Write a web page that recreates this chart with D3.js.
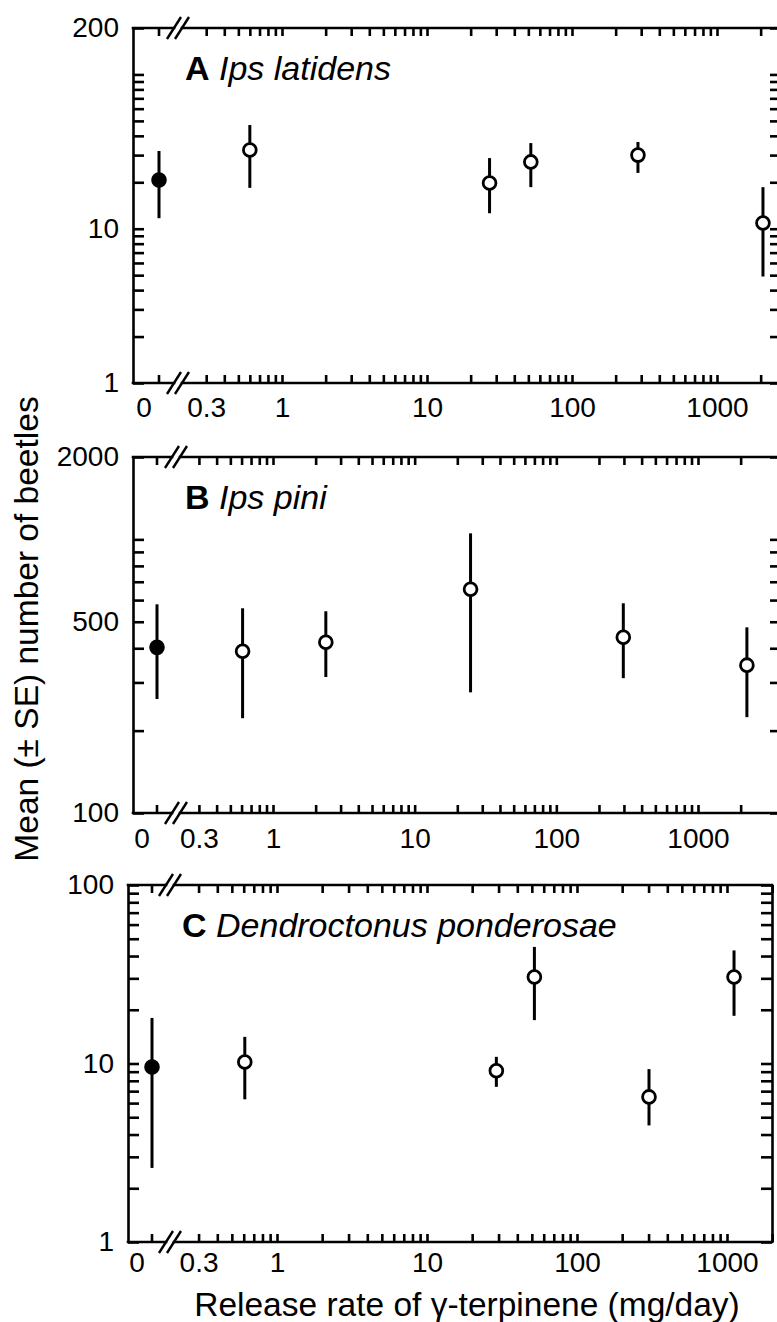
<!DOCTYPE html>
<html>
<head>
<meta charset="utf-8">
<script src="https://cdn.jsdelivr.net/npm/d3@7"></script>
<style>
  body { margin: 0; background: #fff; }
  svg { display: block; font-family: "Liberation Sans", Arial, Helvetica, sans-serif; }
</style>
</head>
<body>
<svg id="vis"></svg>
<script>
const SVG = d3.select('#vis');

const WIDTH = 777;
const HEIGHT = 1322;

SVG.attr("width", WIDTH).attr("height", HEIGHT);

// release rates in mg/day, 0 = unbaited control (filled dot)
const rates_A = [0, 0.6, 27, 52, 285, 2075];
const mean_A  = [20.7, 32.4, 19.8, 27.1, 30, 10.9];
const lo_A    = [11.7, 18.4, 12.6, 18.6, 23, 4.9];
const hi_A    = [31.9, 47, 28.7, 35.9, 36.5, 18.6];

const rates_B = [0, 0.61, 2.36, 24.8, 297, 2214];
const mean_B  = [403, 390, 421, 657, 439, 347];
const lo_B    = [261, 222, 314, 276, 311, 224];
const hi_B    = [579, 560, 546, 1052, 584, 477];

const rates_C = [0, 0.61, 29, 52, 302, 1114];
const mean_C  = [9.56, 10.2, 9.1, 30.5, 6.5, 30.5];
const lo_C    = [2.6, 6.3, 7.4, 17.5, 4.5, 18.5];
const hi_C    = [18, 14.1, 10.9, 45, 9.3, 43];

// x axis ticks (log part, right of the break)
const x_ticks = [0.3, 0.4, 0.5, 0.6, 0.7, 0.8, 0.9,
                 1, 2, 3, 4, 5, 6, 7, 8, 9,
                 10, 20, 30, 40, 50, 60, 70, 80, 90,
                 100, 200, 300, 400, 500, 600, 700, 800, 900,
                 1000, 2000];
const x_labels = [0.3, 1, 10, 100, 1000];

const y_ticks_A  = [1, 2, 3, 4, 5, 6, 7, 8, 9, 10, 20, 30, 40, 50, 60, 70, 80, 90, 100, 200];
const y_labels_A = [1, 10, 200];
const y_ticks_B  = [100, 200, 300, 400, 500, 600, 700, 800, 900, 1000, 2000];
const y_labels_B = [100, 500, 2000];
const y_ticks_C  = [1, 2, 3, 4, 5, 6, 7, 8, 9, 10, 20, 30, 40, 50, 60, 70, 80, 90, 100];
const y_labels_C = [1, 10, 100];

const panels = [
  {letter: "A", name: "Ips latidens", rates: rates_A, mean: mean_A, lo: lo_A, hi: hi_A,
   yDomain: [1, 200], yTicks: y_ticks_A, yLabels: y_labels_A,
   top: 28, bottom: 383, left: 133, right: 781, x1: 282, x1000: 717,
   zeroX: 159, breakX: 178, xPad: 14, titleX: 185},
  {letter: "B", name: "Ips pini", rates: rates_B, mean: mean_B, lo: lo_B, hi: hi_B,
   yDomain: [100, 2000], yTicks: y_ticks_B, yLabels: y_labels_B,
   top: 457, bottom: 813, left: 133, right: 781, x1: 273, x1000: 698,
   zeroX: 157, breakX: 176, xPad: 15, titleX: 185},
  {letter: "C", name: "Dendroctonus ponderosae", rates: rates_C, mean: mean_C, lo: lo_C, hi: hi_C,
   yDomain: [1, 100], yTicks: y_ticks_C, yLabels: y_labels_C,
   top: 885, bottom: 1242, left: 128, right: 772, x1: 277, x1000: 727,
   zeroX: 152, breakX: 170, xPad: 10, titleX: 182}
];

const TICK_FS = 28;
const LW = 2.6;

panels.forEach(function(p) {
  const g = SVG.append("g").attr("id", "panel_" + p.letter);

  const x_scale = d3.scaleLog().domain([1, 1000]).range([p.x1, p.x1000]);
  const y_scale = d3.scaleLog().domain(p.yDomain).range([p.bottom, p.top]);
  const xpos = (v) => v === 0 ? p.zeroX : x_scale(v);

  // y axes, ticks pointing inward
  const yl = g.append("g")
    .attr("transform", `translate(${p.left},0)`)
    .call(d3.axisLeft(y_scale)
      .tickValues(p.yTicks)
      .tickSize(-11).tickSizeOuter(0).tickPadding(14)
      .tickFormat((d) => p.yLabels.includes(d) ? d : ""));
  const yr = g.append("g")
    .attr("transform", `translate(${p.right},0)`)
    .call(d3.axisRight(y_scale)
      .tickValues(p.yTicks)
      .tickSize(-11).tickSizeOuter(0)
      .tickFormat(""));

  // x axes (log part)
  const xb = g.append("g")
    .attr("transform", `translate(0,${p.bottom})`)
    .call(d3.axisBottom(x_scale)
      .tickValues(x_ticks)
      .tickSize(-8).tickSizeOuter(0).tickPadding(p.xPad)
      .tickFormat((d) => x_labels.includes(d) ? d : ""));
  const xt = g.append("g")
    .attr("transform", `translate(0,${p.top})`)
    .call(d3.axisTop(x_scale)
      .tickValues(x_ticks)
      .tickSize(-8).tickSizeOuter(0)
      .tickFormat(""));

  [yl, yr, xb, xt].forEach(function(a) {
    a.attr("font-size", TICK_FS).attr("font-family", null);
    a.selectAll("line").attr("stroke", "#000").attr("stroke-width", LW);
    a.selectAll("text").attr("fill", "#000");
  });
  yl.select(".domain").attr("stroke", "#000").attr("stroke-width", LW);
  yr.select(".domain").attr("stroke", "#000").attr("stroke-width", LW);
  xb.select(".domain").remove();
  xt.select(".domain").remove();

  // control tick + "0" label
  g.append("line")
    .attr("x1", p.zeroX).attr("x2", p.zeroX)
    .attr("y1", p.bottom).attr("y2", p.bottom - 8)
    .attr("stroke", "#000").attr("stroke-width", LW);
  g.append("line")
    .attr("x1", p.zeroX).attr("x2", p.zeroX)
    .attr("y1", p.top).attr("y2", p.top + 8)
    .attr("stroke", "#000").attr("stroke-width", LW);
  g.append("text")
    .attr("x", p.zeroX - 15)
    .attr("y", p.bottom + p.xPad)
    .attr("dy", "0.71em")
    .attr("text-anchor", "middle")
    .attr("font-size", TICK_FS)
    .text("0");

  // horizontal axis lines with a break
  [p.top, p.bottom].forEach(function(yy) {
    g.append("line")
      .attr("x1", p.left).attr("x2", p.breakX - 4)
      .attr("y1", yy).attr("y2", yy)
      .attr("stroke", "#000").attr("stroke-width", LW).attr("stroke-linecap", "square");
    g.append("line")
      .attr("x1", p.breakX + 4).attr("x2", p.right)
      .attr("y1", yy).attr("y2", yy)
      .attr("stroke", "#000").attr("stroke-width", LW).attr("stroke-linecap", "square");
    [-4, 4].forEach(function(off) {
      g.append("line")
        .attr("x1", p.breakX + off - 7).attr("y1", yy + 11)
        .attr("x2", p.breakX + off + 7).attr("y2", yy - 11)
        .attr("stroke", "#000").attr("stroke-width", 2.4);
    });
  });

  // panel label
  const t = g.append("text")
    .attr("x", p.titleX)
    .attr("y", p.top + 52)
    .attr("font-size", 34);
  t.append("tspan").attr("font-weight", "bold").text(p.letter);
  t.append("tspan").attr("font-style", "italic").text(" " + p.name);

  // error bars and means
  const pts = p.rates.map((r, i) => ({r: r, m: p.mean[i], lo: p.lo[i], hi: p.hi[i]}));

  g.selectAll(".err")
    .data(pts)
    .enter()
    .append("line")
    .classed("err", true)
    .attr("x1", (d) => xpos(d.r)).attr("x2", (d) => xpos(d.r))
    .attr("y1", (d) => y_scale(d.lo)).attr("y2", (d) => y_scale(d.hi))
    .attr("stroke", "#000").attr("stroke-width", 3);

  g.selectAll(".pt")
    .data(pts)
    .enter()
    .append("circle")
    .classed("pt", true)
    .attr("cx", (d) => xpos(d.r))
    .attr("cy", (d) => y_scale(d.m))
    .attr("r", 6.4)
    .attr("fill", (d) => d.r === 0 ? "#000" : "#fff")
    .attr("stroke", "#000")
    .attr("stroke-width", 2.8);
});

// axis titles
SVG.append("text")
  .attr("transform", "translate(38,629) rotate(-90)")
  .attr("text-anchor", "middle")
  .attr("font-size", 33.5)
  .text("Mean (± SE) number of beetles");

SVG.append("text")
  .attr("x", 467)
  .attr("y", 1316)
  .attr("text-anchor", "middle")
  .attr("font-size", 33.5)
  .text("Release rate of γ-terpinene (mg/day)");
</script>
</body>
</html>
